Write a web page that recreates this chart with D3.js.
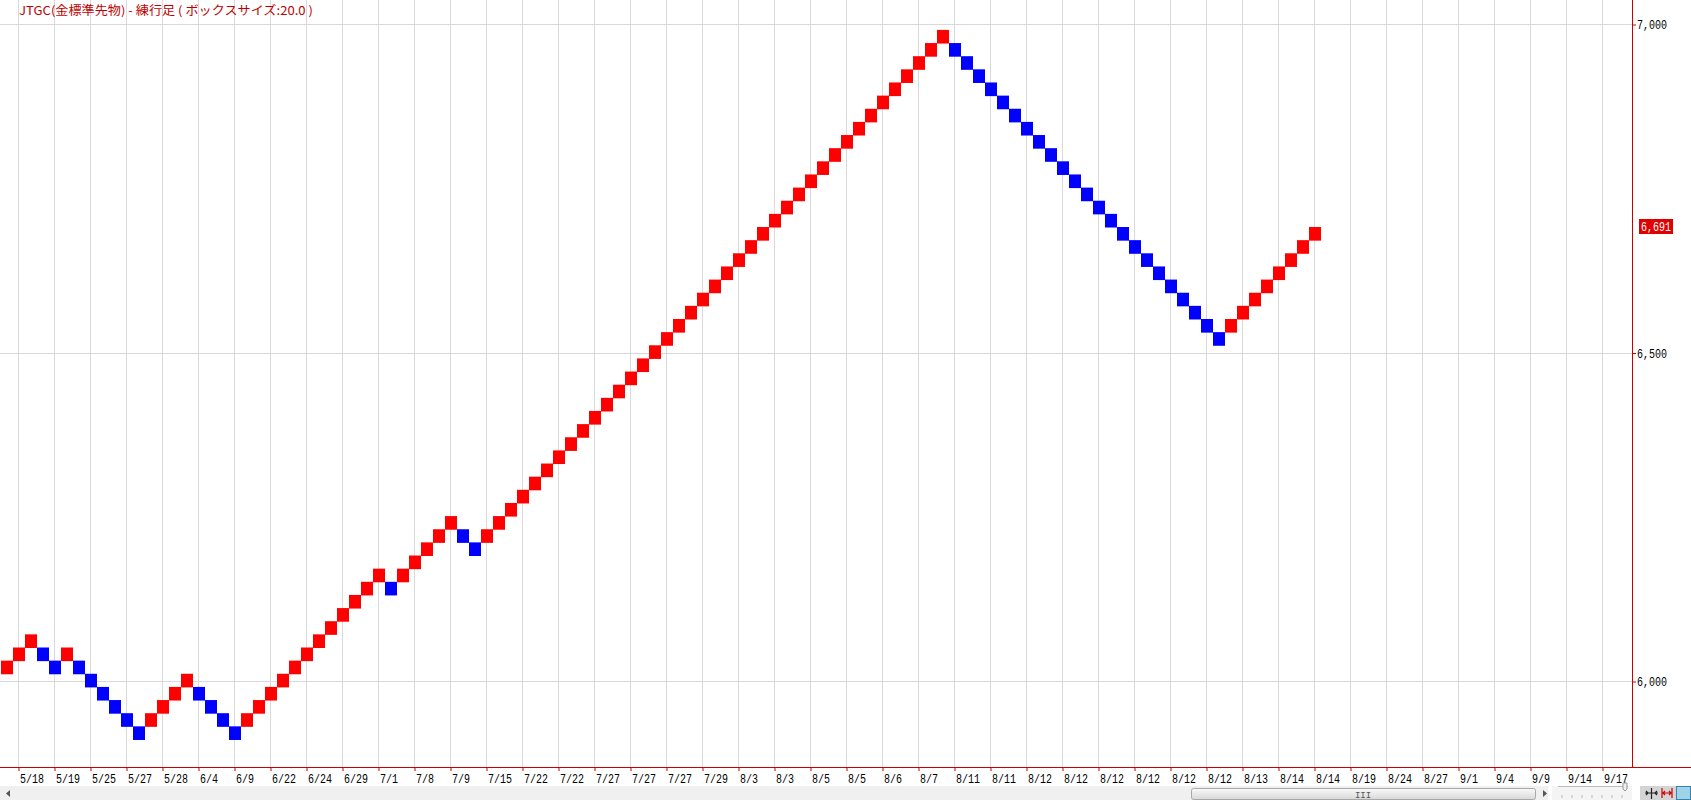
<!DOCTYPE html>
<html>
<head>
<meta charset="utf-8">
<script src="https://cdn.jsdelivr.net/npm/d3@7"></script>
<style>
    body { margin: 0; background: #fff; overflow: hidden; }
    svg { display: block; }
</style>
</head>
<body>
<div id="chart"></div>
<script>
// box tops (box size 20), one box per column
const boxTops = [
    6031, 6051, 6071, 6051, 6031, 6051, 6031, 6011, 5991, 5971,
    5951, 5931, 5951, 5971, 5991, 6011, 5991, 5971, 5951, 5931,
    5951, 5971, 5991, 6011, 6031, 6051, 6071, 6091, 6111, 6131,
    6151, 6171, 6151, 6171, 6191, 6211, 6231, 6251, 6231, 6211,
    6231, 6251, 6271, 6291, 6311, 6331, 6351, 6371, 6391, 6411,
    6431, 6451, 6471, 6491, 6511, 6531, 6551, 6571, 6591, 6611,
    6631, 6651, 6671, 6691, 6711, 6731, 6751, 6771, 6791, 6811,
    6831, 6851, 6871, 6891, 6911, 6931, 6951, 6971, 6991, 6971,
    6951, 6931, 6911, 6891, 6871, 6851, 6831, 6811, 6791, 6771,
    6751, 6731, 6711, 6691, 6671, 6651, 6631, 6611, 6591, 6571,
    6551, 6531, 6551, 6571, 6591, 6611, 6631, 6651, 6671, 6691
];
// u = up box (red), d = down box (blue)
const boxDirs = [
    'u','u','u','d','d','u','d','d','d','d',
    'd','d','u','u','u','u','d','d','d','d',
    'u','u','u','u','u','u','u','u','u','u',
    'u','u','d','u','u','u','u','u','d','d',
    'u','u','u','u','u','u','u','u','u','u',
    'u','u','u','u','u','u','u','u','u','u',
    'u','u','u','u','u','u','u','u','u','u',
    'u','u','u','u','u','u','u','u','u','d',
    'd','d','d','d','d','d','d','d','d','d',
    'd','d','d','d','d','d','d','d','d','d',
    'd','d','u','u','u','u','u','u','u','u'
];
const boxSize = 20;
const dateLabels = [
    '5/18','5/19','5/25','5/27','5/28','6/4','6/9','6/22','6/24','6/29',
    '7/1','7/8','7/9','7/15','7/22','7/22','7/27','7/27','7/27','7/29',
    '8/3','8/3','8/5','8/5','8/6','8/7','8/11','8/11','8/12','8/12',
    '8/12','8/12','8/12','8/12','8/13','8/14','8/14','8/19','8/24','8/27',
    '9/1','9/4','9/9','9/14','9/17'
];
const priceTicks = [6000, 6500, 7000];
const lastPrice = 6691;
const titleText = 'JTGC(金標準先物) - 練行足 ( ボックスサイズ:20.0 )';

const W = 1691, H = 800;
const axisX = 1632, axisY = 767;
const monoFont = '"Liberation Mono", "DejaVu Sans Mono", monospace';
// squeeze mono text to 6px per character like the original bitmap font
const fitText = sel => sel.each(function() {
    d3.select(this)
        .attr('textLength', this.textContent.length * 6)
        .attr('lengthAdjust', 'spacingAndGlyphs');
});

const svg = d3.select('#chart').append('svg')
    .attr('width', W)
    .attr('height', H);

svg.append('rect').attr('width', W).attr('height', H).attr('fill', '#fff');

// column index -> x of gridline through that column
const xScale = d3.scaleLinear().domain([0, 1]).range([6, 18]);
const yScale = d3.scaleLinear().domain([6000, 7000]).range([681, 24]);

// a label every third column, starting at column 1
const tickCols = dateLabels.map((d, k) => 1 + 3 * k);

// gridlines
svg.append('g').selectAll('line')
    .data(tickCols)
    .join('line')
    .attr('x1', d => xScale(d) + 0.5).attr('x2', d => xScale(d) + 0.5)
    .attr('y1', 0).attr('y2', axisY)
    .attr('stroke', '#d9d9d9');

svg.append('g').selectAll('line')
    .data(priceTicks)
    .join('line')
    .attr('x1', 0).attr('x2', axisX)
    .attr('y1', d => Math.round(yScale(d)) + 0.5).attr('y2', d => Math.round(yScale(d)) + 0.5)
    .attr('stroke', '#d9d9d9');

// boxes
svg.append('g').selectAll('rect')
    .data(boxTops)
    .join('rect')
    .attr('x', (d, i) => xScale(i) - 5)
    .attr('y', d => yScale(d))
    .attr('width', 12)
    .attr('height', d => yScale(d - boxSize) - yScale(d) + 0.5)
    .attr('fill', (d, i) => boxDirs[i] === 'u' ? '#ff0000' : '#0000ff');

// bottom axis
const xAxis = d3.axisBottom(xScale)
    .tickValues(tickCols)
    .tickSize(4)
    .tickFormat((d, k) => dateLabels[k]);

const gx = svg.append('g')
    .attr('transform', `translate(0.5,${axisY})`)
    .call(xAxis);
gx.select('.domain').remove();
gx.selectAll('.tick line').attr('stroke', '#cc0000');
gx.selectAll('.tick text')
    .attr('text-anchor', 'start')
    .attr('x', 1)
    .attr('y', 16)
    .attr('dy', 0)
    .attr('fill', '#000')
    .style('font-family', monoFont)
    .style('font-size', '13px')
    .call(fitText);

// right axis
const yAxis = d3.axisRight(yScale)
    .tickValues(priceTicks)
    .tickSize(4)
    .tickFormat(d3.format(','));

const gy = svg.append('g')
    .attr('transform', `translate(${axisX},0.5)`)
    .call(yAxis);
gy.select('.domain').remove();
gy.selectAll('.tick line').attr('stroke', '#cc0000');
gy.selectAll('.tick text')
    .attr('x', 5)
    .attr('dy', '0.32em')
    .attr('fill', '#000')
    .style('font-family', monoFont)
    .style('font-size', '13px')
    .call(fitText);

svg.append('line')
    .attr('x1', axisX + 0.5).attr('x2', axisX + 0.5)
    .attr('y1', 0).attr('y2', axisY)
    .attr('stroke', '#cc0000');
svg.append('line')
    .attr('x1', 0).attr('x2', W)
    .attr('y1', axisY + 0.5).attr('y2', axisY + 0.5)
    .attr('stroke', '#cc0000');

// last price marker
const lastY = yScale(lastPrice);
svg.append('rect')
    .attr('x', axisX + 7).attr('y', lastY - 8)
    .attr('width', 34).attr('height', 15)
    .attr('fill', '#e00000');
svg.append('text')
    .attr('x', axisX + 9).attr('y', lastY + 4)
    .attr('fill', '#fff')
    .style('font-family', monoFont)
    .style('font-size', '13px')
    .text(d3.format(',')(lastPrice))
    .call(fitText);

// title
svg.append('text')
    .attr('x', 19).attr('y', 15)
    .attr('fill', '#c00000')
    .attr('textLength', 294)
    .attr('lengthAdjust', 'spacingAndGlyphs')
    .style('font-family', '"Noto Sans CJK JP", sans-serif')
    .style('font-size', '12px')
    .text(titleText);

// scroll bar strip under the chart
const bar = svg.append('g');
bar.append('rect')
    .attr('x', 0).attr('y', 786).attr('width', 1548).attr('height', 14)
    .attr('fill', '#f0f0f0');
bar.append('path')
    .attr('d', 'M10,790 L10,797 L6,793.5 Z')
    .attr('fill', '#555');
const thumbGrad = svg.append('defs').append('linearGradient')
    .attr('id', 'thumb').attr('x1', 0).attr('x2', 0).attr('y1', 0).attr('y2', 1);
thumbGrad.append('stop').attr('offset', '0%').attr('stop-color', '#fafafa');
thumbGrad.append('stop').attr('offset', '100%').attr('stop-color', '#d8d8d8');
bar.append('rect')
    .attr('x', 1191.5).attr('y', 788.5).attr('width', 344).attr('height', 11)
    .attr('rx', 2)
    .attr('fill', 'url(#thumb)')
    .attr('stroke', '#a8a8a8');
bar.append('text')
    .attr('x', 1363).attr('y', 798)
    .attr('text-anchor', 'middle')
    .attr('fill', '#555')
    .style('font-family', monoFont)
    .style('font-size', '9px')
    .text('III');
bar.append('path')
    .attr('d', 'M1543,790 L1543,797 L1547,793.5 Z')
    .attr('fill', '#555');

// zoom slider and buttons
bar.append('rect')
    .attr('x', 1552).attr('y', 786).attr('width', 80).attr('height', 14)
    .attr('fill', '#f4f4f4');
bar.append('line')
    .attr('x1', 1558).attr('x2', 1628).attr('y1', 786.5).attr('y2', 786.5)
    .attr('stroke', '#bbb');
bar.append('g').selectAll('line')
    .data(d3.range(7))
    .join('line')
    .attr('x1', d => 1562 + d * 10).attr('x2', d => 1562 + d * 10)
    .attr('y1', 795).attr('y2', 798)
    .attr('stroke', '#bbb');
bar.append('path')
    .attr('d', 'M1623,783 L1627,783 L1627,789 L1625,791 L1623,789 Z')
    .attr('fill', '#eee').attr('stroke', '#999');

bar.append('rect')
    .attr('x', 1640).attr('y', 786).attr('width', 51).attr('height', 14)
    .attr('fill', '#d4d4d4');
const btn = bar.append('g').attr('stroke-width', 1.2);
btn.append('path')
    .attr('d', 'M1645,793 L1658,793 M1651.5,788 L1651.5,799 M1646,791 L1648,793 L1646,795 M1657,791 L1655,793 L1657,795')
    .attr('fill', 'none').attr('stroke', '#222');
btn.append('path')
    .attr('d', 'M1662,788 L1662,798 M1672,788 L1672,798 M1663,793 L1671,793 M1665,791 L1663,793 L1665,795 M1669,791 L1671,793 L1669,795')
    .attr('fill', 'none').attr('stroke', '#cc0000');
bar.append('rect')
    .attr('x', 1676.5).attr('y', 786.5).attr('width', 14).attr('height', 13)
    .attr('fill', '#9fd3e8').attr('stroke', '#3c7fb1');
btn.append('path')
    .attr('d', 'M1683.5,788 L1683.5,799 M1678,793.5 L1689,793.5')
    .attr('fill', 'none').attr('stroke', '#1a5fa0').attr('stroke-width', 2);
</script>
</body>
</html>
